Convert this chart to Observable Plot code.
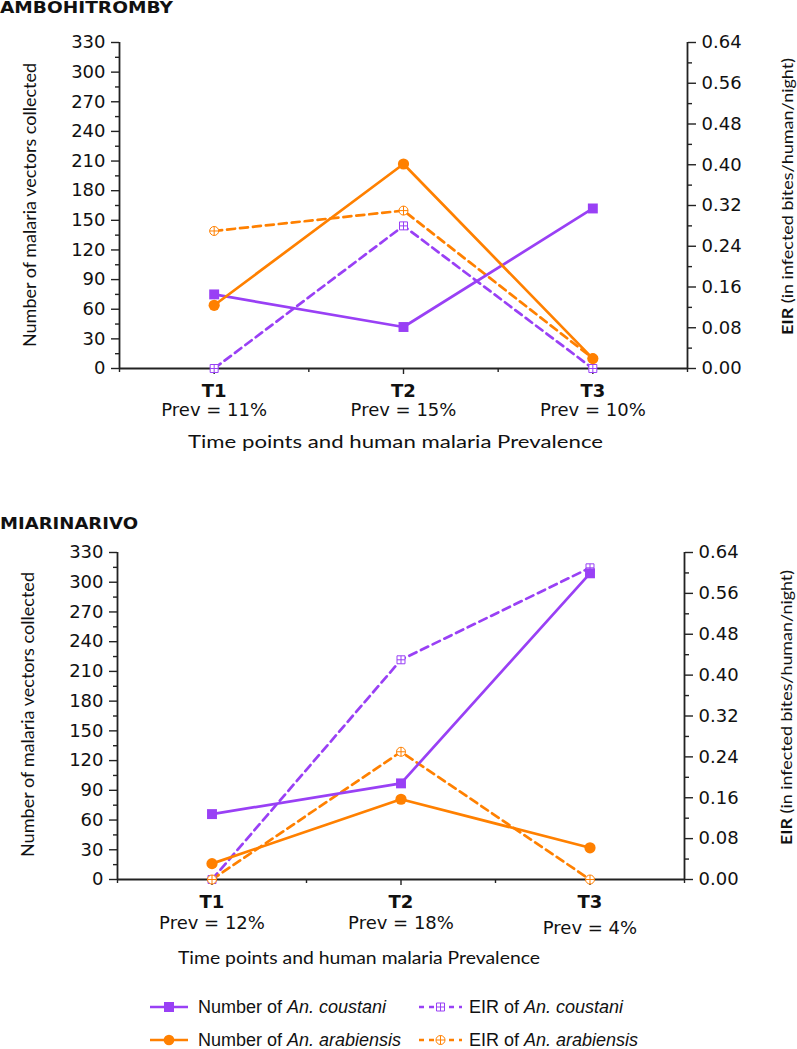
<!DOCTYPE html>
<html>
<head>
<meta charset="utf-8">
<script src="https://cdn.jsdelivr.net/npm/d3@7"></script>
<script src="https://cdn.jsdelivr.net/npm/@observablehq/plot@0.6"></script>
<style>
  html, body { margin: 0; padding: 0; background: #fff; }
  #page { position: relative; width: 797px; height: 1049px; overflow: hidden; }
  #page > svg, #page > figure, #page > div { position: absolute; left: 0; margin: 0; }
</style>
</head>
<body>
<div id="page"></div>
<script>
// ---------------- DATA ----------------
const timePoints = ["T1", "T2", "T3"];
const prevAmbohitromby = ["Prev = 11%", "Prev = 15%", "Prev = 10%"];
const prevMiarinarivo = ["Prev = 12%", "Prev = 18%", "Prev = 4%"];

// Number of vectors collected (left axis)
const amboCoustaniN = [75, 42, 162];
const amboArabiensisN = [64, 207, 10];
const miarCoustaniN = [66, 97, 309];
const miarArabiensisN = [16, 81, 32];

// EIR (right axis, infected bites/human/night)
const amboCoustaniEIR = [0, 0.28, 0];
const amboArabiensisEIR = [0.27, 0.31, 0.02];
const miarCoustaniEIR = [0, 0.43, 0.61];
const miarArabiensisEIR = [0, 0.25, 0];

// Axis ticks
const countTicks = [0, 30, 60, 90, 120, 150, 180, 210, 240, 270, 300, 330];
const countMinorTicks = [15, 45, 75, 105, 135, 165, 195, 225, 255, 285, 315];
const eirTicks = [0, 0.08, 0.16, 0.24, 0.32, 0.40, 0.48, 0.56, 0.64];
const eirMinorTicks = [0.04, 0.12, 0.20, 0.28, 0.36, 0.44, 0.52, 0.60];

const seriesNames = ["Number of ", "EIR of "];
const speciesNames = ["An. coustani", "An. arabiensis"];

// ---------------- STYLE ----------------
const purple = "#9940f5";
const orange = "#ff8000";
const axisColor = "#222";
const k = 330 / 0.64; // EIR -> count-axis conversion

const circlePlus = {
  draw(ctx, size) {
    const r = Math.sqrt(size / Math.PI);
    ctx.moveTo(r, 0); ctx.arc(0, 0, r, 0, 2 * Math.PI);
    ctx.moveTo(-r, 0); ctx.lineTo(r, 0);
    ctx.moveTo(0, -r); ctx.lineTo(0, r);
  }
};
const squarePlus = {
  draw(ctx, size) {
    const s = Math.sqrt(size) / 2;
    ctx.moveTo(-s, -s); ctx.lineTo(s, -s); ctx.lineTo(s, s); ctx.lineTo(-s, s); ctx.closePath();
    ctx.moveTo(-s, 0); ctx.lineTo(s, 0);
    ctx.moveTo(0, -s); ctx.lineTo(0, s);
  }
};

const page = document.getElementById("page");

function makePanel(cfg) {
  const rows = timePoints.map((t, i) => ({
    i, t,
    cN: cfg.cN[i], aN: cfg.aN[i],
    cE: cfg.cE[i] * k, aE: cfg.aE[i] * k
  }));
  const marks = [
    Plot.axisY({anchor: "left", ticks: countTicks, tickSize: 8, tickPadding: 6, label: null, strokeWidth: 1.4, stroke: axisColor}),
    Plot.axisY({anchor: "left", ticks: countMinorTicks, tickSize: 4, tickFormat: () => "", label: null, strokeWidth: 1.4, stroke: axisColor}),
    Plot.axisY({anchor: "right", ticks: eirTicks.map(v => v * k), tickFormat: d => (d / k).toFixed(2), tickSize: 8, tickPadding: 6, label: null, strokeWidth: 1.4, stroke: axisColor}),
    Plot.axisY({anchor: "right", ticks: eirMinorTicks.map(v => v * k), tickSize: 4, tickFormat: () => "", label: null, strokeWidth: 1.4, stroke: axisColor}),
    Plot.axisX({ticks: [0, 1, 2], tickSize: 6, tickPadding: 10, tickFormat: i => timePoints[i], fontWeight: "bold", label: null, strokeWidth: 1.4, stroke: axisColor}),
    Plot.axisX({ticks: [-0.5, 0.5, 1.5, 2.5], tickSize: 4, tickFormat: () => "", label: null, strokeWidth: 1.4, stroke: axisColor}),
    ...cfg.prevGroups.map(g => Plot.axisX({ticks: g.ticks, tickSize: 0, tickPadding: g.pad, tickFormat: i => cfg.prev[i], label: null})),
    Plot.ruleY([0], {stroke: axisColor, strokeWidth: 1.8}),
    Plot.ruleX([-0.5, 2.5], {stroke: axisColor, strokeWidth: 1.8}),
    Plot.line(rows, {x: "i", y: "cE", stroke: purple, strokeWidth: 2.7, strokeDasharray: "8,5"}),
    Plot.line(rows, {x: "i", y: "aE", stroke: orange, strokeWidth: 2.7, strokeDasharray: "8,5"}),
    Plot.line(rows, {x: "i", y: "cN", stroke: purple, strokeWidth: 2.7}),
    Plot.line(rows, {x: "i", y: "aN", stroke: orange, strokeWidth: 2.7}),
    Plot.dot(rows, {x: "i", y: "cE", symbol: squarePlus, r: 4.5, stroke: purple, fill: "white", strokeWidth: 1}),
    Plot.dot(rows, {x: "i", y: "aE", symbol: circlePlus, r: 4.5, stroke: orange, fill: "white", strokeWidth: 1}),
    Plot.dot(rows, {x: "i", y: "cN", symbol: "square", r: 5.6, fill: purple}),
    Plot.dot(rows, {x: "i", y: "aN", symbol: "circle", r: 5.6, fill: orange})
  ];
  const svg = Plot.plot({
    width: 797,
    height: cfg.height,
    marginTop: cfg.marginTop,
    marginBottom: cfg.marginBottom,
    marginLeft: cfg.marginLeft,
    marginRight: cfg.marginRight,
    x: {type: "linear", domain: [-0.5, 2.5]},
    y: {type: "linear", domain: [0, 330]},
    style: {fontFamily: "DejaVu Sans", fontSize: "18px", color: "#111", background: "white", overflow: "visible"},
    marks
  });
  svg.style.top = cfg.top + "px";
  const s = d3.select(svg);
  // left axis title
  s.append("text")
    .attr("transform", `translate(${cfg.leftTitle.x},${cfg.leftTitle.y}) rotate(-90)`)
    .attr("text-anchor", "middle").attr("dominant-baseline", "central")
    .attr("font-family", "Lato").attr("font-size", 17).attr("fill", "#111")
    .attr("textLength", cfg.leftTitle.len).attr("lengthAdjust", "spacingAndGlyphs")
    .text("Number of malaria vectors collected");
  // right axis title
  const rt = s.append("text")
    .attr("transform", `translate(${cfg.rightTitle.x},${cfg.rightTitle.y}) rotate(-90)`)
    .attr("text-anchor", "middle").attr("dominant-baseline", "central")
    .attr("font-family", "Lato").attr("font-size", 16).attr("fill", "#111")
    .attr("textLength", cfg.rightTitle.len).attr("lengthAdjust", "spacingAndGlyphs");
  rt.append("tspan").attr("font-weight", "bold").text("EIR");
  rt.append("tspan").text(" (in infected bites/human/night)");
  // x axis title
  s.append("text")
    .attr("x", cfg.xTitle.x).attr("y", cfg.xTitle.y)
    .attr("text-anchor", "middle").attr("dominant-baseline", "central")
    .attr("font-family", "Lato").attr("font-size", 17.5).attr("fill", "#111")
    .attr("textLength", cfg.xTitle.len).attr("lengthAdjust", "spacingAndGlyphs")
    .text("Time points and human malaria Prevalence");
  page.appendChild(svg);
}

function makeTitle(text, top, height, baseline, size, len) {
  const svg = d3.create("svg").attr("width", 797).attr("height", height).style("top", top + "px");
  svg.append("text").attr("x", 0).attr("y", baseline)
    .attr("font-family", "DejaVu Sans").attr("font-weight", "bold").attr("font-size", size)
    .attr("fill", "#111").attr("textLength", len).attr("lengthAdjust", "spacingAndGlyphs")
    .text(text);
  page.appendChild(svg.node());
}

makeTitle("AMBOHITROMBY", 0, 22, 12.5, 15, 173);
makePanel({
  top: 22, height: 440, marginTop: 20, marginBottom: 94, marginLeft: 119, marginRight: 110,
  cN: amboCoustaniN, aN: amboArabiensisN, cE: amboCoustaniEIR, aE: amboArabiensisEIR,
  prev: prevAmbohitromby,
  prevGroups: [{ticks: [0, 1, 2], pad: 35}],
  leftTitle: {x: 29, y: 183, len: 284},
  rightTitle: {x: 786, y: 174.5, len: 277},
  xTitle: {x: 395.5, y: 419, len: 415}
});

makeTitle("MIARINARIVO", 505, 27, 24, 16.5, 138);
makePanel({
  top: 532, height: 440, marginTop: 20, marginBottom: 93, marginLeft: 117, marginRight: 113,
  cN: miarCoustaniN, aN: miarArabiensisN, cE: miarCoustaniEIR, aE: miarArabiensisEIR,
  prev: prevMiarinarivo,
  prevGroups: [{ticks: [0, 1], pad: 37}, {ticks: [2], pad: 42}],
  leftTitle: {x: 27, y: 182.5, len: 285},
  rightTitle: {x: 785, y: 175.5, len: 275},
  xTitle: {x: 359, y: 425, len: 362}
});

// ---------------- LEGEND ----------------
(function legend() {
  const svg = d3.create("svg").attr("width", 797).attr("height", 64).style("top", "985px");
  const items = [
    {col: 0, row: 0, color: purple, dash: null, sym: d3.symbolSquare, size: 100, fill: purple, stroke: "none", name: seriesNames[0], sp: speciesNames[0]},
    {col: 0, row: 1, color: orange, dash: null, sym: d3.symbolCircle, size: 90, fill: orange, stroke: "none", name: seriesNames[0], sp: speciesNames[1]},
    {col: 1, row: 0, color: purple, dash: "5,5", sym: squarePlus, size: 64, fill: "white", stroke: purple, name: seriesNames[1], sp: speciesNames[0]},
    {col: 1, row: 1, color: orange, dash: "5,5", sym: circlePlus, size: 64, fill: "white", stroke: orange, name: seriesNames[1], sp: speciesNames[1]}
  ];
  const cols = [{x0: 150, x1: 188, tx: 198}, {x0: 419, x1: 462, tx: 469}];
  const rowsY = [22, 55];
  for (const it of items) {
    const c = cols[it.col], y = rowsY[it.row];
    svg.append("line").attr("x1", c.x0).attr("x2", c.x1).attr("y1", y).attr("y2", y)
      .attr("stroke", it.color).attr("stroke-width", 2.7)
      .attr("stroke-dasharray", it.dash);
    svg.append("path").attr("d", d3.symbol(it.sym, it.size)())
      .attr("transform", `translate(${(c.x0 + c.x1) / 2},${y})`)
      .attr("fill", it.fill).attr("stroke", it.stroke).attr("stroke-width", 1);
    const t = svg.append("text").attr("x", c.tx).attr("y", y)
      .attr("dominant-baseline", "central")
      .attr("font-family", "Liberation Sans").attr("font-size", 18).attr("fill", "#111");
    t.append("tspan").text(it.name);
    t.append("tspan").attr("font-style", "italic").text(it.sp);
  }
  page.appendChild(svg.node());
})();
</script>
</body>
</html>
